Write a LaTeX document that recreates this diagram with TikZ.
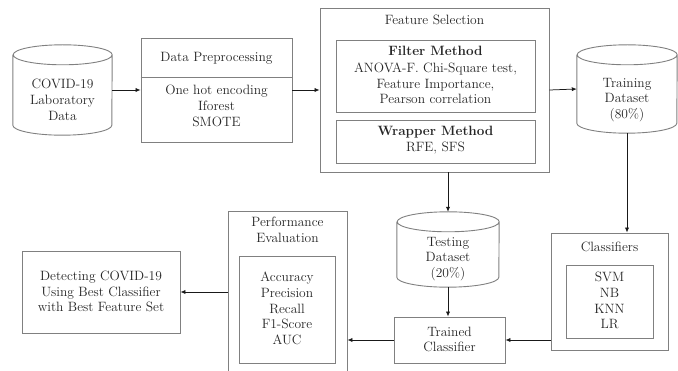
\documentclass[tikz,border=0pt]{standalone}
\usetikzlibrary{arrows.meta}
\definecolor{bord}{HTML}{808080}
\definecolor{txt}{HTML}{262626}
\newcommand{\fsz}{\fontsize{13.5}{15.8}\selectfont}
\begin{document}
\begin{tikzpicture}[x=1pt,y=1pt,
  box/.style={draw=bord, line width=0.9pt, rectangle, inner sep=0pt},
  cylbox/.style={draw=none, rectangle, inner sep=0pt},
  lbl/.style={text=txt, align=center, font=\fsz, inner sep=0pt},
  arr/.style={-{Latex[length=5pt,width=4.2pt]}, line width=0.75pt, black!90},
  cylline/.style={draw=bord, line width=0.9pt}
]
\useasboundingbox (0,0) rectangle (678,-371);
\clip (0,0) rectangle (678,-371);
\fill[white] (0,0) rectangle (678,-371);

% cylinders (bounding nodes)
\node[cylbox, minimum width=99pt, minimum height=90pt] (covid) at (62.5,-90) {};
\node[cylbox, minimum width=100pt, minimum height=88pt] (train) at (627,-89) {};
\node[cylbox, minimum width=102pt, minimum height=75pt] (test) at (448,-249.5) {};
\draw[cylline] ([yshift=-10pt]covid.north west) -- ([yshift=10pt]covid.south west)
   arc[start angle=180,end angle=360,x radius=49.5pt,y radius=10pt]
   -- ([yshift=-10pt]covid.north east)
   arc[start angle=0,end angle=360,x radius=49.5pt,y radius=10pt];
\draw[cylline] ([yshift=-10pt]train.north west) -- ([yshift=10pt]train.south west)
   arc[start angle=180,end angle=360,x radius=50pt,y radius=10pt]
   -- ([yshift=-10pt]train.north east)
   arc[start angle=0,end angle=360,x radius=50pt,y radius=10pt];
\draw[cylline] ([yshift=-10pt]test.north west) -- ([yshift=10pt]test.south west)
   arc[start angle=180,end angle=360,x radius=51pt,y radius=10pt]
   -- ([yshift=-10pt]test.north east)
   arc[start angle=0,end angle=360,x radius=51pt,y radius=10pt];

% boxes
\node[box, minimum width=151pt, minimum height=104pt] (prep) at (216.5,-90) {};
\draw[cylline] ([yshift=-40pt]prep.north west) -- ([yshift=-40pt]prep.north east);
\node[box, minimum width=229pt, minimum height=164pt] (fs) at (434.5,-90) {};
\node[box, minimum width=199pt, minimum height=72pt] (filt) at (435.5,-76) {};
\node[box, minimum width=199pt, minimum height=43pt] (wrap) at (435.5,-141.5) {};
\node[box, minimum width=117pt, minimum height=117pt] (cls) at (609.5,-291.5) {};
\node[box, minimum width=87pt, minimum height=73pt] (clsin) at (609.5,-301.5) {};
\node[box, minimum width=111pt, minimum height=46pt] (tr) at (449.5,-340) {};
\node[box, minimum width=119pt, minimum height=164pt] (pe) at (287.5,-293) {};
\node[box, minimum width=96pt, minimum height=107pt] (pein) at (287,-309.5) {};
\node[box, minimum width=158pt, minimum height=82pt] (det) at (101,-292) {};

% texts
\node[lbl] (tcovid) at (62.5,-100) {COVID-19\\Laboratory\\Data};
\node[lbl] (tprep) at (216.5,-58) {Data Preprocessing};
\node[lbl] (tprepb) at (216.5,-106) {One hot encoding\\Iforest\\SMOTE};
\node[lbl] (tfs) at (434.5,-20) {Feature Selection};
\node[lbl] (tfilt) at (435.5,-75) {\textbf{Filter Method}\\[1pt]ANOVA-F. Chi-Square test,\\Feature Importance,\\Pearson correlation};
\node[lbl] (twrap) at (435.5,-140.5) {\textbf{Wrapper Method}\\RFE, SFS};
\node[lbl] (ttrain) at (627,-100) {Training\\Dataset\\(80\%)};
\node[lbl] (ttest) at (448,-259) {Testing\\Dataset\\(20\%)};
\node[lbl] (tcls) at (609.5,-247) {Classifiers};
\node[lbl] (tclsin) at (609.5,-300.5) {SVM\\NB\\KNN\\LR};
\node[lbl] (ttr) at (449.5,-339.5) {Trained\\Classifier};
\node[lbl] (tpe) at (287.5,-230) {Performance\\Evaluation};
\node[lbl] (tpein) at (287,-308.5) {Accuracy\\Precision\\Recall\\F1-Score\\AUC};
\node[lbl] (tdet) at (101,-291.5) {Detecting COVID-19\\Using Best Classifier\\with Best Feature Set};

% connectors
\draw[arr] (covid.east) -- (prep.west);
\draw[arr] (prep.east) -- (fs.west);
\draw[arr] (fs.east) -- (train.west);
\draw[arr] (train.south) -- (train.south |- cls.north);
\draw[arr] (test.north |- fs.south) -- (test.north);
\draw[arr] (test.south) -- (test.south |- tr.north);
\draw[arr] (cls.west |- tr.east) -- (tr.east);
\draw[arr] (tr.west) -- (pe.east |- tr.west);
\draw[arr] (pe.west |- det.east) -- (det.east);
\end{tikzpicture}
\end{document}
